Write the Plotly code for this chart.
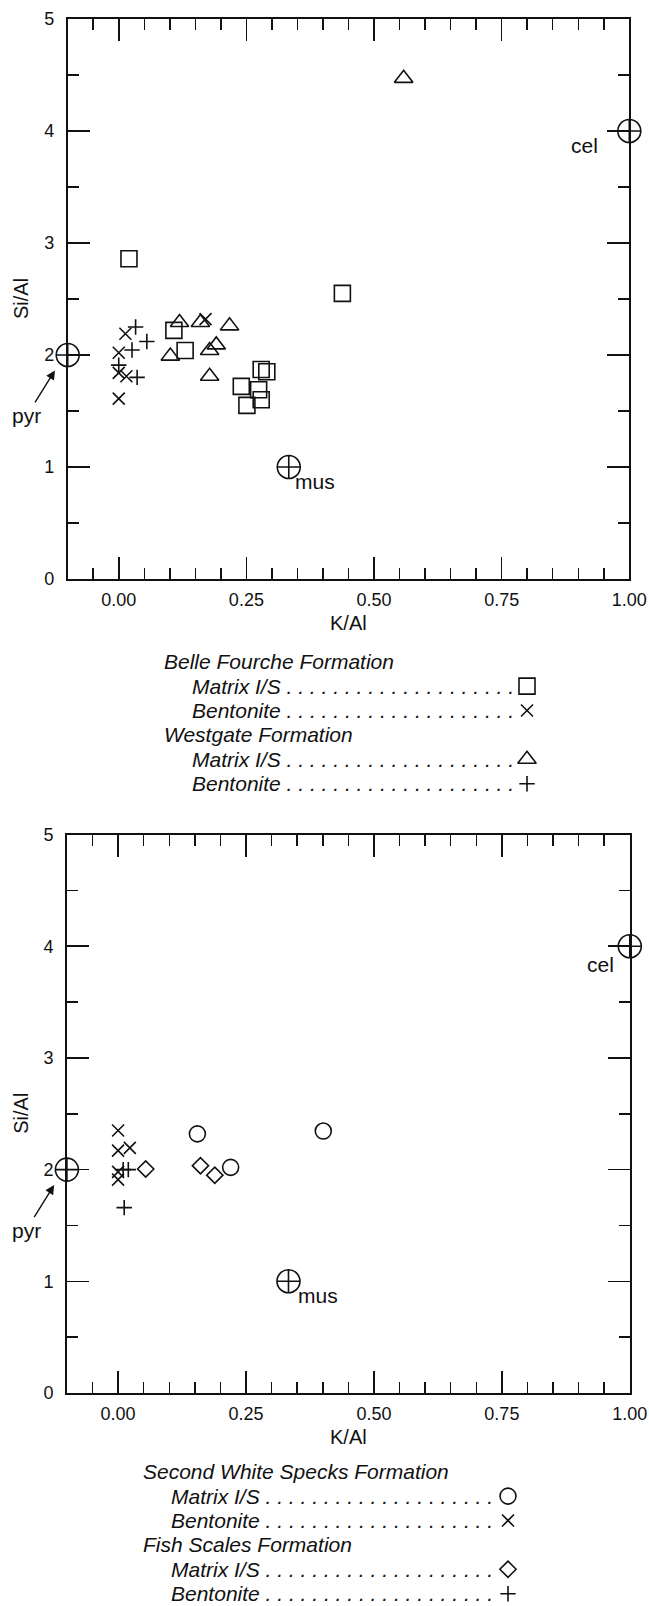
import plotly.graph_objects as go

W, H = 649, 1606
FONT = "Liberation Sans, Arial, Helvetica, sans-serif"
INK = "#111111"

# ---------------- data ----------------
# Top panel: Belle Fourche & Westgate formations
bf_matrix_x = [0.020, 0.438, 0.108, 0.130, 0.240, 0.251, 0.279, 0.290, 0.274, 0.279]
bf_matrix_y = [2.86, 2.55, 2.22, 2.04, 1.72, 1.55, 1.87, 1.85, 1.69, 1.60]
bf_bent_x = [0.000, 0.013, 0.000, 0.015, 0.000, 0.170]
bf_bent_y = [2.02, 2.19, 1.84, 1.81, 1.61, 2.32]
wg_matrix_x = [0.119, 0.160, 0.217, 0.101, 0.178, 0.191, 0.178, 0.558]
wg_matrix_y = [2.29, 2.29, 2.26, 1.99, 2.04, 2.09, 1.81, 4.47]
wg_bent_x = [0.033, 0.026, 0.055, 0.000, 0.036]
wg_bent_y = [2.25, 2.045, 2.12, 1.91, 1.80]

# Bottom panel: Second White Specks & Fish Scales formations
sws_matrix_x = [0.155, 0.401, 0.220]
sws_matrix_y = [2.32, 2.345, 2.02]
sws_bent_x = [0.000, 0.000, 0.023, 0.000, 0.000]
sws_bent_y = [2.35, 2.17, 2.195, 1.98, 1.91]
fs_matrix_x = [0.054, 0.161, 0.189]
fs_matrix_y = [2.005, 2.035, 1.95]
fs_bent_x = [0.010, 0.020, 0.012]
fs_bent_y = [2.00, 2.00, 1.66]

# End-member compositions
end_names = ["pyr", "mus", "cel"]
end_x = [-0.10, 0.333, 1.00]
end_y = [2.0, 1.0, 4.0]

x_ticks = [0.0, 0.25, 0.50, 0.75, 1.00]
y_ticks = [0, 1, 2, 3, 4, 5]

legend_top = [("Belle Fourche Formation", None), ("Matrix I/S", "square-open"),
              ("Bentonite", "x-thin-open"), ("Westgate Formation", None),
              ("Matrix I/S", "triangle-up-open"), ("Bentonite", "cross-thin-open")]
legend_bot = [("Second White Specks Formation", None), ("Matrix I/S", "circle-open"),
              ("Bentonite", "x-thin-open"), ("Fish Scales Formation", None),
              ("Matrix I/S", "diamond-open"), ("Bentonite", "cross-thin-open")]

# ---------------- styling / layout ----------------
SIZES = {"square-open": 16, "x-thin-open": 12, "triangle-up-open": 16,
         "cross-thin-open": 11, "circle-open": 16, "diamond-open": 12.5,
         "circle-cross-open": 23}

top_box = dict(l=67.7, r=629.3, t=19.0, b=579.0)
bot_box = dict(l=66.9, r=629.8, t=834.5, b=1393.0)
X0, X1 = -0.1, 1.0
Y0, Y1 = 0.0, 5.0


def dom(box):
    return [box["l"] / W, box["r"] / W], [1 - box["b"] / H, 1 - box["t"] / H]


def data_to_paper(box, x, y):
    px = box["l"] + (x - X0) / (X1 - X0) * (box["r"] - box["l"])
    py = box["b"] - (y - Y0) / (Y1 - Y0) * (box["b"] - box["t"])
    return px / W, 1 - py / H


fig = go.Figure()


def add_pts(x, y, symbol, xa, ya):
    fig.add_trace(go.Scatter(
        x=x, y=y, mode="markers", xaxis=xa, yaxis=ya, showlegend=False,
        cliponaxis=False, hoverinfo="skip",
        marker=dict(symbol=symbol, size=SIZES[symbol], color=INK,
                    line=dict(color=INK, width=1.6))))


for xa, ya in (("x", "y"), ("x2", "y2")):
    add_pts(end_x, end_y, "circle-cross-open", xa, ya)

add_pts(bf_matrix_x, bf_matrix_y, "square-open", "x", "y")
add_pts(bf_bent_x, bf_bent_y, "x-thin-open", "x", "y")
add_pts(wg_matrix_x, wg_matrix_y, "triangle-up-open", "x", "y")
add_pts(wg_bent_x, wg_bent_y, "cross-thin-open", "x", "y")

add_pts(sws_matrix_x, sws_matrix_y, "circle-open", "x2", "y2")
add_pts(sws_bent_x, sws_bent_y, "x-thin-open", "x2", "y2")
add_pts(fs_matrix_x, fs_matrix_y, "diamond-open", "x2", "y2")
add_pts(fs_bent_x, fs_bent_y, "cross-thin-open", "x2", "y2")


def xaxis_cfg(box, anchor):
    d, _ = dom(box)
    return dict(domain=d, anchor=anchor, range=[X0, X1], tickmode="array",
                tickvals=x_ticks, ticktext=[f"{v:.2f}" for v in x_ticks],
                ticks="inside", ticklen=22, tickwidth=1.5, tickcolor=INK,
                minor=dict(dtick=0.05, tick0=0, ticks="inside", ticklen=11,
                           tickwidth=1.5, tickcolor=INK, showgrid=False),
                showline=True, linecolor=INK, linewidth=1.8, mirror="ticks",
                showgrid=False, zeroline=False, ticklabelstandoff=4,
                automargin=False, fixedrange=True,
                tickfont=dict(family=FONT, size=18, color=INK))


def yaxis_cfg(box, anchor):
    _, d = dom(box)
    return dict(domain=d, anchor=anchor, range=[Y0, Y1], tickmode="array",
                tickvals=y_ticks, ticktext=[str(v) for v in y_ticks],
                ticks="inside", ticklen=22, tickwidth=1.5, tickcolor=INK,
                minor=dict(dtick=0.5, tick0=0, ticks="inside", ticklen=11,
                           tickwidth=1.5, tickcolor=INK, showgrid=False),
                showline=True, linecolor=INK, linewidth=1.8, mirror="ticks",
                showgrid=False, zeroline=False, ticklabelstandoff=8,
                automargin=False, fixedrange=True,
                tickfont=dict(family=FONT, size=18, color=INK))


annotations = []
for box, xr, yr, cel_pos, mus_pos in (
        (top_box, "x", "y", (0.913, 3.87), (0.385, 0.875)),
        (bot_box, "x2", "y2", (0.943, 3.84), (0.390, 0.875))):
    cx = (box["l"] + box["r"]) / 2
    cy = (box["t"] + box["b"]) / 2
    annotations.append(dict(text="K/Al", x=cx / W, y=1 - (box["b"] + 43.5) / H,
                            xref="paper", yref="paper", showarrow=False,
                            xanchor="center", yanchor="middle",
                            font=dict(family=FONT, size=20, color=INK)))
    annotations.append(dict(text="Si/Al", x=21 / W, y=1 - cy / H, textangle=-90,
                            xref="paper", yref="paper", showarrow=False,
                            xanchor="center", yanchor="middle",
                            font=dict(family=FONT, size=20, color=INK)))
    annotations.append(dict(text="cel", x=cel_pos[0], y=cel_pos[1], xref=xr, yref=yr,
                            showarrow=False, xanchor="center", yanchor="middle",
                            font=dict(family=FONT, size=21, color=INK)))
    annotations.append(dict(text="mus", x=mus_pos[0], y=mus_pos[1], xref=xr, yref=yr,
                            showarrow=False, xanchor="center", yanchor="middle",
                            font=dict(family=FONT, size=21, color=INK)))
    tx, ty = data_to_paper(box, -0.125, 1.862)
    annotations.append(dict(text="pyr", x=tx, y=ty, xref="paper", yref="paper",
                            showarrow=True, ax=-28, ay=45, arrowhead=2, arrowsize=1.3,
                            arrowwidth=1.4, arrowcolor=INK, standoff=0,
                            font=dict(family=FONT, size=21, color=INK)))

LEADER = " " + ". " * 19 + "."
ROW = 24.4
leg_sym_x, leg_sym_y, leg_sym_s = [], [], []
for rows, head_x, sub_x, sym_x, y0 in ((legend_top, 161.7, 190.0, 527.0, 661.7),
                                       (legend_bot, 140.7, 169.3, 508.0, 1471.7)):
    for i, (label, sym) in enumerate(rows):
        yy = y0 + i * ROW
        if sym is None:
            annotations.append(dict(text=f"<i>{label}</i>", x=head_x / W, y=1 - yy / H,
                                    xref="paper", yref="paper", xanchor="left",
                                    yanchor="middle", showarrow=False,
                                    font=dict(family=FONT, size=21, color=INK)))
        else:
            annotations.append(dict(text=f"<i>{label}{LEADER}</i>", x=sub_x / W,
                                    y=1 - yy / H, xref="paper", yref="paper",
                                    xanchor="left", yanchor="middle", showarrow=False,
                                    font=dict(family=FONT, size=21, color=INK)))
            leg_sym_x.append(sym_x)
            leg_sym_y.append(yy)
            leg_sym_s.append(sym)

for sx, sy, s in zip(leg_sym_x, leg_sym_y, leg_sym_s):
    add_pts([sx], [sy], s, "x3", "y3")

fig.update_layout(
    template="none",
    width=W, height=H, margin=dict(l=0, r=0, t=0, b=0, pad=0, autoexpand=False),
    paper_bgcolor="white", plot_bgcolor="rgba(0,0,0,0)", showlegend=False,
    xaxis=xaxis_cfg(top_box, "y"), yaxis=yaxis_cfg(top_box, "x"),
    xaxis2=xaxis_cfg(bot_box, "y2"), yaxis2=yaxis_cfg(bot_box, "x2"),
    xaxis3=dict(domain=[0, 1], range=[0, W], visible=False, anchor="y3",
                fixedrange=True, automargin=False),
    yaxis3=dict(domain=[0, 1], range=[H, 0], visible=False, anchor="x3",
                fixedrange=True, automargin=False),
    annotations=annotations,
    font=dict(family=FONT, color=INK),
    hovermode=False,
)

PAGE_FIX = ("document.documentElement.style.margin='0';"
            "document.documentElement.style.overflow='hidden';"
            "document.body.style.margin='0';"
            "document.body.style.padding='0';"
            "document.body.style.overflow='hidden';")

fig.write_html("out.html", post_script=PAGE_FIX,
               config={"displayModeBar": False, "staticPlot": True})
